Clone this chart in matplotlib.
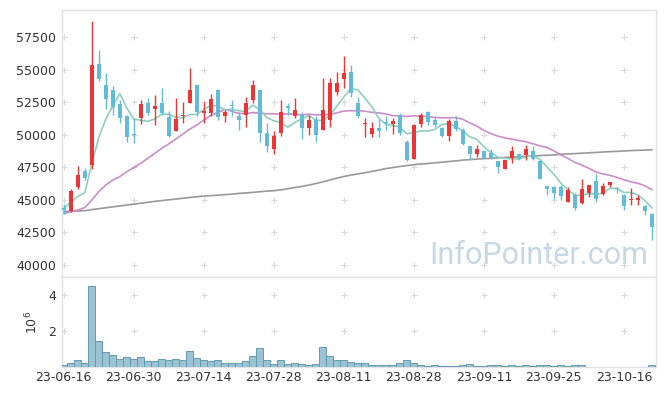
import numpy as np
import pandas as pd
import matplotlib
matplotlib.use("Agg")
import matplotlib.pyplot as plt

plt.rcParams['font.family'] = ['DejaVu Sans']

# Trading days (KRX holidays removed)
holidays = ["2023-08-15", "2023-09-28", "2023-09-29", "2023-10-02", "2023-10-03", "2023-10-09"]
dates = pd.bdate_range("2023-06-16", "2023-10-20", freq="C", holidays=holidays)

# OHLC
opens = [44400, 44150, 45950, 47200, 47700, 55400, 53800, 53450, 52350, 51450,
         50050, 51300, 52400, 52000, 52400, 51350, 50300, 51400, 52450, 53800,
         51700, 51700, 53450, 51450, 52300, 51400, 51500, 52650, 53400, 50100,
         48900, 50100, 52200, 51450, 51500, 50500, 51100, 50350, 51150, 53300,
         54300, 54850, 52450, 50800, 50050, 50500, 51000, 50800, 51500, 49450,
         48150, 50800, 51750, 51150, 50500, 49900, 51050, 50350, 49100, 48500,
         48750, 48600, 47950, 47400, 48250, 48550, 48450, 48750, 48000, 46050,
         45950, 45950, 44850, 45350, 44750, 45500, 46450, 45450, 46150, 45900,
         45350, 45000, 45000, 44550, 43900]
highs = [44700, 45850, 47600, 47450, 58700, 56500, 54700, 53750, 52650, 51500,
         51300, 52700, 52800, 53050, 53550, 51800, 52800, 52550, 55100, 53800,
         52550, 53150, 53500, 51900, 52700, 51750, 52900, 54200, 53450, 50900,
         50250, 52700, 52400, 52800, 51750, 51500, 51400, 54350, 54350, 54850,
         56050, 55350, 52900, 51300, 51000, 51200, 51400, 51250, 51650, 49600,
         50800, 51650, 51850, 51450, 50600, 51200, 51400, 50500, 49100, 49200,
         48850, 48900, 47950, 48050, 49100, 48600, 49200, 49100, 48050, 46050,
         46050, 46150, 46000, 45500, 46600, 46150, 46950, 46300, 46400, 46000,
         45450, 45900, 45350, 44600, 44000]
lows = [43900, 44100, 45850, 46550, 47350, 54150, 52000, 51500, 50900, 49450,
        49350, 50800, 51500, 50750, 51500, 49850, 50250, 50900, 52400, 51450,
        50900, 51400, 51150, 51000, 51400, 50350, 50600, 52400, 49450, 48700,
        48550, 49900, 51500, 51250, 49700, 50000, 49450, 50350, 50600, 53050,
        53550, 52900, 51250, 49850, 49850, 49850, 50350, 50050, 50000, 47950,
        48150, 50600, 50750, 50600, 49850, 49550, 50250, 49200, 48050, 48300,
        48200, 48100, 47050, 47400, 47850, 48050, 48050, 48050, 46600, 45350,
        45050, 45000, 44800, 44250, 44700, 45200, 44850, 45350, 46000, 45550,
        44200, 44600, 44600, 43850, 41900]
closes = [44200, 45700, 46900, 46700, 55350, 54300, 52750, 52100, 51300, 49850,
          49950, 52350, 51700, 52200, 51700, 49900, 51200, 51500, 53450, 51750,
          51800, 52750, 51350, 51750, 52200, 51150, 52450, 53800, 50100, 49100,
          49900, 51750, 52050, 51900, 50500, 51150, 50000, 51900, 53950, 53950,
          54700, 53200, 51400, 50900, 50500, 50300, 50900, 51050, 50100, 48050,
          50750, 51500, 51000, 50750, 49900, 51050, 50450, 49300, 48500, 48900,
          48250, 48200, 47500, 48050, 48750, 48200, 48900, 48150, 46600, 45800,
          45500, 45300, 45750, 44400, 45800, 46150, 45050, 46050, 46350, 45800,
          44550, 45100, 45150, 44150, 42950]
volumes = [0.11, 0.22, 0.40, 0.22, 4.52, 1.46, 0.85, 0.67, 0.46, 0.56,
           0.46, 0.56, 0.35, 0.35, 0.46, 0.41, 0.46, 0.41, 0.91, 0.52,
           0.41, 0.35, 0.41, 0.22, 0.22, 0.22, 0.35, 0.63, 1.06, 0.41,
           0.17, 0.41, 0.17, 0.22, 0.17, 0.11, 0.17, 1.11, 0.61, 0.41,
           0.41, 0.28, 0.22, 0.22, 0.11, 0.11, 0.11, 0.11, 0.22, 0.41,
           0.22, 0.11, 0.05, 0.11, 0.06, 0.05, 0.05, 0.11, 0.17, 0.05,
           0.05, 0.11, 0.11, 0.05, 0.11, 0.05, 0.11, 0.05, 0.11, 0.11,
           0.05, 0.11, 0.05, 0.11, 0.11, 0.04, 0.04, 0.04, 0.04, 0.04,
           0.04, 0.04, 0.04, 0.04, 0.11]

# Moving averages that need history from before the visible window
ma5_head = [44300, 44850, 45250, 45550]
ma20_head = [43940, 44090, 44220, 44400, 44990, 45630, 46140, 46520, 46780, 47160,
             47470, 47810, 48190, 48570, 48960, 49290, 49670, 50050, 50440]
ma_long = [44100, 44120, 44140, 44170, 44250, 44320, 44390, 44460, 44530, 44600,
           44670, 44740, 44810, 44880, 44940, 45000, 45060, 45120, 45180, 45240,
           45290, 45320, 45360, 45400, 45440, 45490, 45530, 45570, 45620, 45670,
           45700, 45770, 45850, 45940, 46030, 46130, 46250, 46380, 46520, 46660,
           46790, 46900, 46990, 47080, 47180, 47280, 47400, 47480, 47560, 47630,
           47700, 47750, 47790, 47840, 47890, 47940, 47990, 48050, 48090, 48130,
           48160, 48190, 48220, 48250, 48280, 48310, 48340, 48370, 48400, 48420,
           48445, 48500, 48520, 48550, 48580, 48610, 48640, 48670, 48700, 48720,
           48750, 48780, 48800, 48820, 48840]

df = pd.DataFrame({"open": opens, "high": highs, "low": lows, "close": closes,
                   "volume": np.array(volumes) * 1e6}, index=dates)
x = np.arange(len(df))

ma5 = df["close"].rolling(5).mean().to_numpy()
ma5[:len(ma5_head)] = ma5_head
ma20 = df["close"].rolling(20).mean().to_numpy()
ma20[:len(ma20_head)] = ma20_head

up_color = '#ee3535'
down_color = '#62bcd8'
grid_color = '#d9d9d9'
spine_color = '#e3e3e3'

fig = plt.figure(figsize=(6.65, 3.96), dpi=100)
ax = fig.add_axes([0.0928, 0.2997, 0.8937, 0.6742])
ax2 = fig.add_axes([0.0928, 0.0725, 0.8937, 0.2273], sharex=ax)

# Candles
rise = df["close"] >= df["open"]
colors = np.where(rise, up_color, down_color)
body_low = np.minimum(df["open"], df["close"])
body_h = np.maximum(np.abs(df["close"] - df["open"]), 60)
ax.vlines(x, df["low"], df["high"], colors=colors, linewidth=1.0, zorder=3)
ax.bar(x, body_h, bottom=body_low, width=0.62, color=colors, linewidth=0, zorder=4)

# Moving averages
ax.plot(x, ma_long, color='#999999', linewidth=1.2, zorder=2)
ax.plot(x, ma20, color='#cc8ccc', linewidth=1.2, zorder=2)
ax.plot(x, ma5, color='#8fcfbe', linewidth=1.2, zorder=2)

# Volume
ax2.bar(x, df["volume"], width=1.0, color='#9cc3d2', edgecolor='#5f9bb3', linewidth=0.7, zorder=3)

xticks = x[::10]
price_ticks = np.arange(40000, 57501, 2500)
vol_ticks = [2e6, 4e6]

ax.set_xlim(-0.3, 84.6)
ax.set_ylim(39050, 59550)
ax.set_yticks(price_ticks)
ax.set_yticklabels([str(v) for v in price_ticks])
ax2.set_ylim(0, 5e6)
ax2.set_yticks(vol_ticks)
ax2.set_yticklabels(["2", "4"])
ax2.set_xticks(xticks)
ax2.set_xticklabels(dates[::10].strftime("%y-%m-%d"))
ax2.set_ylabel("$10^{6}$", fontsize=9, color='#333333', labelpad=6)

# Cross-shaped grid marks at tick intersections
gx, gy = np.meshgrid(xticks, price_ticks)
ax.plot(gx.ravel(), gy.ravel(), '+', color=grid_color, ms=5, mew=0.8, zorder=1)
gx, gy = np.meshgrid(xticks, vol_ticks)
ax2.plot(gx.ravel(), gy.ravel(), '+', color=grid_color, ms=5, mew=0.8, zorder=1)

for a in (ax, ax2):
    for s in a.spines.values():
        s.set_color(spine_color)
        s.set_linewidth(1.0)
    a.tick_params(length=0, labelsize=9, colors='#333333', pad=4)
ax.tick_params(labelbottom=False)
ax2.tick_params(axis='x', pad=3)

ax.text(0.803, 0.08, "InfoPointer.com", transform=ax.transAxes, ha='center', va='center',
        fontsize=22, color='#c5d8e4', family='Roboto', zorder=0)

fig.savefig("out.png", dpi=100)
